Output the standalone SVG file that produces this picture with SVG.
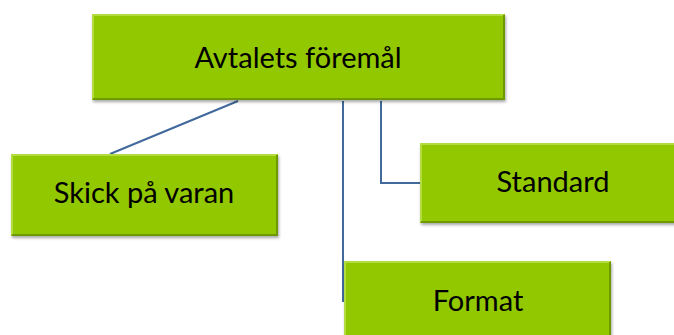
<svg xmlns="http://www.w3.org/2000/svg" width="674" height="335" viewBox="0 0 674 335">
<defs>
<filter id="sh" x="-5%" y="-5%" width="112%" height="120%">
<feGaussianBlur in="SourceAlpha" stdDeviation="1.5"/>
<feOffset dx="1" dy="2" result="b"/>
<feComponentTransfer><feFuncA type="linear" slope="0.35"/></feComponentTransfer>
<feMerge><feMergeNode/><feMergeNode in="SourceGraphic"/></feMerge>
</filter>
</defs>
<style>
.box{fill:#92C800;filter:url(#sh)}
.hi{fill:none;stroke:#B2DC40;stroke-width:2}
.lo{fill:none;stroke:#6E9A00;stroke-width:2}
.lbl{font-family:Lato,"Open Sans",sans-serif;font-size:29px;fill:#000;text-anchor:middle}
.con{fill:none;stroke:#41699B;stroke-width:2}
</style>
<g id="connectors">
<line class="con" x1="238" y1="101" x2="110" y2="154"/>
<polyline class="con" points="343,101 343,302"/>
<polyline class="con" points="381,101 381,183 420,183"/>
</g>
<g id="n-top">
<rect class="box" x="92" y="14" width="413" height="86"/>
<polyline class="hi" points="93,99 93,15 504,15"/>
<polyline class="lo" points="504,15 504,99 93,99"/>
<text class="lbl" x="298" y="68">Avtalets föremål</text>
</g>
<g id="n-skick">
<rect class="box" x="11" y="154" width="267" height="82"/>
<polyline class="hi" points="12,235 12,155 277,155"/>
<polyline class="lo" points="277,155 277,235 12,235"/>
<text class="lbl" x="144" y="203">Skick på varan</text>
</g>
<g id="n-standard">
<rect class="box" x="420" y="143" width="260" height="80"/>
<polyline class="hi" points="421,222 421,144 680,144"/>
<polyline class="lo" points="421,222 680,222"/>
<text class="lbl" x="553" y="192">Standard</text>
</g>
<g id="n-format">
<rect class="box" x="344" y="261" width="267" height="90"/>
<polyline class="hi" points="345,340 345,262 610,262"/>
<polyline class="lo" points="610,262 610,340"/>
<text class="lbl" x="478" y="311">Format</text>
</g>
</svg>
